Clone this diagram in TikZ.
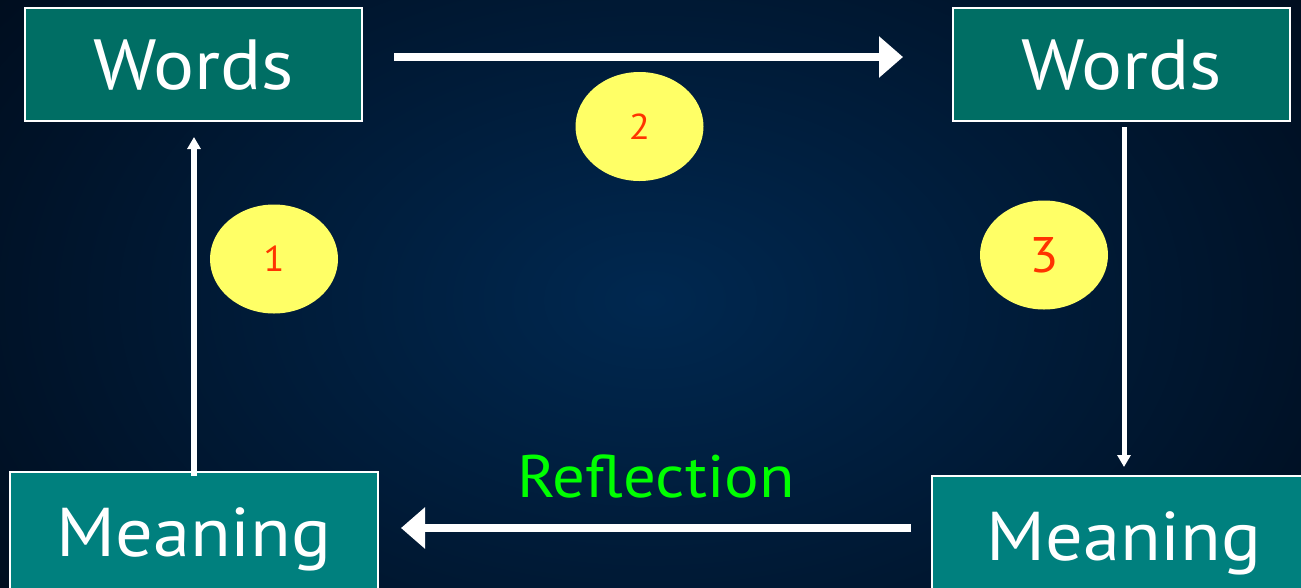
\documentclass[tikz,border=0pt]{standalone}
\usepackage{fontspec}
\setmainfont{PT Sans}[FakeStretch=1.08]
\usetikzlibrary{arrows.meta,shapes.geometric}
\definecolor{bgin}{RGB}{0,40,80}
\definecolor{bgout}{RGB}{0,12,28}
\definecolor{topbox}{RGB}{0,110,100}
\definecolor{botbox}{RGB}{0,128,126}
\definecolor{ellfill}{RGB}{255,255,102}
\definecolor{numred}{RGB}{255,51,0}
\definecolor{refgreen}{RGB}{0,255,0}
\tikzset{
  wbox/.style={draw=white, line width=2pt, fill=topbox, text=white, inner sep=0pt,
    minimum width=337pt, minimum height=113pt, text height=50pt, text depth=0pt,
    font=\fontsize{71}{80}\selectfont},
  mbox/.style={draw=white, line width=2pt, fill=botbox, text=white, inner sep=0pt,
    minimum width=368pt, minimum height=120pt, text height=48pt, text depth=0pt,
    font=\fontsize{69}{78}\selectfont},
  num/.style={ellipse, fill=ellfill, text=numred, inner sep=0pt,
    minimum width=128pt, minimum height=109pt, font=\fontsize{36}{40}\selectfont,
    text height=25pt, text depth=-7pt},
  thinarr/.style={draw=white, line width=6pt, -{Triangle[width=13pt,length=12pt]}},
  thickarr/.style={draw=white, line width=8pt, -{Triangle[width=40pt,length=24pt]}},
}
\begin{document}
\begin{tikzpicture}[x=1pt,y=-1pt]
\useasboundingbox (0,0) rectangle (1301,587);
\shade[inner color=bgin, outer color=bgout] (-200,-250) rectangle (1500,850);
% boxes
\node[wbox] (w1) at (193.5,64.5) {Words};
\node[wbox] (w2) at (1121.5,64.5) {Words};
\node[mbox] (m1) at (194,532) {Meaning};
\node[mbox, minimum width=384pt] (m2) at (1124,536) {Meaning};
% ellipses
\node[num] (n1) at (274,259) {1};
\node[num] (n2) at (639.5,126.5) {2};
\node[num, font=\fontsize{50}{56}\selectfont, text height=35pt, text depth=-14pt] (n3) at (1044,255) {3};
% arrow ends
\coordinate (a1s) at (194,476);
\coordinate (a1e) at (194,137);
\coordinate (a2s) at (394,57);
\coordinate (a2e) at (903,57);
\coordinate (a3s) at (1124,127);
\coordinate (a3e) at (1124,467);
\coordinate (a4s) at (911,528);
\coordinate (a4e) at (401,528);
\draw[thinarr] (a1s) -- (a1e);
\draw[thickarr] (a2s) -- (a2e);
\draw[thinarr, line width=5pt] (a3s) -- (a3e);
\draw[thickarr] (a4s) -- (a4e);
\node[text=refgreen, font=\fontsize{60}{68}\selectfont, anchor=base] (refl) at (656,497) {Reflection};
\end{tikzpicture}
\end{document}
